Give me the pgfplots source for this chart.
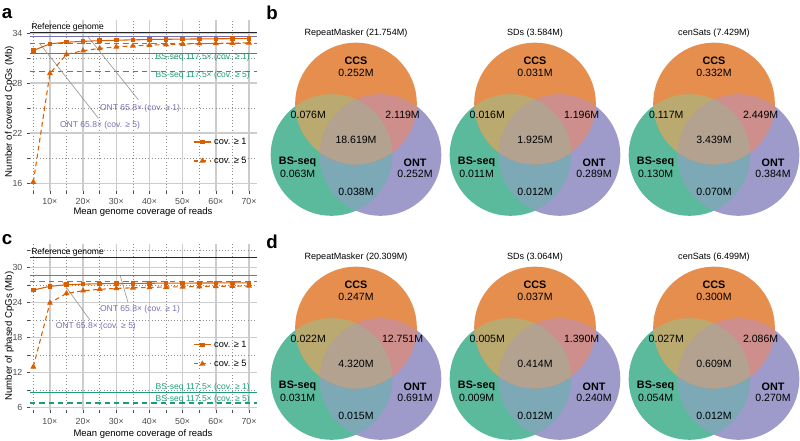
\documentclass[border=0pt]{standalone}
\usepackage{fontspec}
\setmainfont{Liberation Sans}
\usepackage{pgfplots}
\pgfplotsset{compat=1.18}

\definecolor{cOrange}{HTML}{D95F02}
\definecolor{cGreen}{HTML}{1B9E77}
\definecolor{cPurple}{HTML}{7570B3}
\definecolor{vCCS}{RGB}{229,142,78}
\definecolor{vBS}{RGB}{92,186,156}
\definecolor{vONT}{RGB}{158,155,203}
\definecolor{vCB}{RGB}{187,170,112}
\definecolor{vCO}{RGB}{205,142,140}
\definecolor{vBO}{RGB}{125,168,182}
\definecolor{vAll}{RGB}{180,162,145}

\newcommand{\fs}[1]{\fontsize{#1}{#1}\selectfont}

\tikzset{anno/.style={font=\fs{6.4}, inner sep=0pt},
  vfill/.style={draw=none, fill=#1},
  vclip/.style={clip, draw=none, fill=none}}

% Venn circles as plot marks (radius 45.6pt); overlaps clipped inside the mark
\pgfdeclareplotmark{vBSmark}{\path[vfill=vBS] (0pt,0pt) circle[radius=45.6pt];}
\pgfdeclareplotmark{vONTmark}{%
  \path[vfill=vONT] (0pt,0pt) circle[radius=45.6pt];
  \begin{scope}
    \path[vclip] (0pt,0pt) circle[radius=45.6pt];
    \path[vfill=vBO] (-36.75pt,0pt) circle[radius=45.6pt];
  \end{scope}}
\pgfdeclareplotmark{vCCSmark}{%
  \path[vfill=vCCS] (0pt,0pt) circle[radius=45.6pt];
  \begin{scope}
    \path[vclip] (0pt,0pt) circle[radius=45.6pt];
    \path[vfill=vCB] (-18.375pt,-38.625pt) circle[radius=45.6pt];
    \path[vfill=vCO] (18.375pt,-38.625pt) circle[radius=45.6pt];
    \path[vclip] (-18.375pt,-38.625pt) circle[radius=45.6pt];
    \path[vfill=vAll] (18.375pt,-38.625pt) circle[radius=45.6pt];
  \end{scope}}

\pgfplotsset{
  covaxis/.style={
    scale only axis, width=170.25pt,
    xmin=4, xmax=72.4,
    xtick={10,20,30,40,50,60,70},
    xticklabels={10×,20×,30×,40×,50×,60×,70×},
    minor xtick={5,15,25,35,45,55,65},
    grid=both,
    major grid style={black!20, line width=1.1pt},
    minor grid style={black!45, dotted, line width=0.5pt},
    axis line style={draw=none},
    tick align=outside, xtick pos=bottom, ytick pos=left,
    major tick length=2.2pt, minor tick length=2.2pt,
    tick style={black!70, line width=0.5pt},
    ticklabel style={font=\fs{6.6}, text=black!70},
    /pgf/number format/assume math mode=true,
    clip=false,
    legend style={draw=none, fill=none, font=\fs{6.9}, row sep=4pt, anchor=west},
    legend cell align=left,
    legend image code/.code={\draw[mark repeat=2,mark phase=2] plot coordinates {(0pt,0pt) (6.5pt,0pt) (13pt,0pt)};},
  },
  covOne/.style={cOrange, line width=0.8pt, mark=square*, mark size=1.3pt},
  covFive/.style={cOrange, line width=0.8pt, dash pattern=on 3.5pt off 2.5pt, mark=triangle*, mark size=1.8pt, mark options={solid}},
  refline/.style={forget plot, line width=0.8pt},
  conn/.style={forget plot, black!40, line width=0.5pt},
  vennaxis/.style={scale only axis, width=135pt, height=150pt, xmin=-90, xmax=90, ymin=-220, ymax=-20, hide axis, clip=false},
  vennset/.style={only marks, mark options={draw=none}},
}

% #1 position, #2 title, #3 CCS, #4 BS-seq, #5 ONT, #6 CCS&BS, #7 CCS&ONT, #8 BS&ONT, #9 all
\newcommand{\venn}[9]{%
  \begin{axis}[vennaxis, at={#1}]
    \addplot[vennset, mark=vBSmark] coordinates {(-24.5,-155)};
    \addplot[vennset, mark=vONTmark] coordinates {(24.5,-155)};
    \addplot[vennset, mark=vCCSmark] coordinates {(0,-103.5)};
  \end{axis}
  \begin{axis}[vennaxis, at={#1}]
    \node[font=\fs{6.8}] at (axis cs:0,-33) {#2};
    \node[font=\bfseries\fs{8.1}] at (axis cs:0,-61) {CCS};
    \node[font=\fs{7.9}] at (axis cs:0,-73.3) {#3};
    \node[font=\fs{7.9}] at (axis cs:-47.7,-115) {#6};
    \node[font=\fs{7.9}] at (axis cs:46.6,-115) {#7};
    \node[font=\fs{7.9}] at (axis cs:0,-140) {#9};
    \node[font=\bfseries\fs{8.1}] at (axis cs:-58.4,-162.3) {BS-seq};
    \node[font=\fs{7.9}] at (axis cs:-58.4,-174) {#4};
    \node[font=\bfseries\fs{8.1}] at (axis cs:59,-162.3) {ONT};
    \node[font=\fs{7.9}] at (axis cs:59,-174) {#5};
    \node[font=\fs{7.9}] at (axis cs:0,-191.7) {#8};
  \end{axis}}

\begin{document}
\begin{tikzpicture}
\useasboundingbox (0,0) rectangle (600pt,330.75pt);

% panel a
\begin{axis}[covaxis, at={(22.5pt,187.5pt)}, height=128.25pt,
  ymin=15.08, ymax=35.56, ytick={16,22,28,34}, minor ytick={19,25,31},
  legend style={at={(0.70,0.231)}}]
\addplot[refline, black!85] coordinates {(4,34.05) (72.4,34.05)};
\addplot[refline, cPurple] coordinates {(4,33.55) (72.4,33.55)};
\addplot[refline, cPurple, dash pattern=on 4pt off 3pt] coordinates {(4,32.76) (72.4,32.76)};
\addplot[refline, cGreen] coordinates {(4,31.5) (72.4,31.5)};
\addplot[refline, cGreen, dash pattern=on 4pt off 3pt] coordinates {(4,29.36) (72.4,29.36)};
\addplot[conn] coordinates {(36.66,26.0) (21.58,33.5)};
\addplot[conn] coordinates {(24.6,23.8) (6.8,32.8)};
\addplot[covOne] coordinates {
(5,31.9) (10,32.7) (15,32.9) (20,33.0) (25,33.08) (30,33.14) (35,33.18)
(40,33.22) (45,33.25) (50,33.27) (55,33.29) (60,33.31) (65,33.32) (70,33.34)};
\addlegendentry{cov. ≥ 1}
\addplot[covFive] coordinates {
(5,16.15) (10,29.16) (15,31.44) (20,31.88) (25,32.16) (30,32.34) (35,32.46)
(40,32.55) (45,32.62) (50,32.68) (55,32.72) (60,32.76) (65,32.79) (70,32.82)};
\addlegendentry{cov. ≥ 5}
\node[anno, anchor=west] at (axis cs:4.3,34.64) {Reference genome};
\node[anno, anchor=east, text=cGreen] at (axis cs:70.3,31.04) {BS-seq 117.5× (cov. ≥ 1)};
\node[anno, anchor=east, text=cGreen] at (axis cs:70.3,28.88) {BS-seq 117.5× (cov. ≥ 5)};
\node[anno, text=cPurple] at (axis cs:37.17,25.0) {ONT 65.8× (cov. ≥ 1)};
\node[anno, text=cPurple] at (axis cs:25.1,22.9) {ONT 65.8× (cov. ≥ 5)};
\end{axis}

% panel c
\begin{axis}[covaxis, at={(22.5pt,22.875pt)}, height=124.875pt,
  ymin=5.52, ymax=34.06, ytick={6,12,18,24,30}, minor ytick={9,15,21,27,33},
  legend style={at={(0.70,0.337)}}]
\addplot[refline, black!85] coordinates {(4,31.7) (72.4,31.7)};
\addplot[refline, cPurple] coordinates {(4,28.63) (72.4,28.63)};
\addplot[refline, cPurple, dash pattern=on 4pt off 3pt] coordinates {(4,27.7) (72.4,27.7)};
\addplot[refline, cGreen] coordinates {(4,8.63) (72.4,8.63)};
\addplot[refline, cGreen, dash pattern=on 4pt off 3pt] coordinates {(4,6.8) (72.4,6.8)};
\addplot[conn] coordinates {(33.5,24.1) (31.2,28.6)};
\addplot[conn] coordinates {(22.1,21.0) (13.6,27.7)};
\addplot[covOne] coordinates {
(5,26.17) (10,26.8) (15,27.08) (20,27.18) (25,27.24) (30,27.28) (35,27.31)
(40,27.33) (45,27.35) (50,27.36) (55,27.37) (60,27.38) (65,27.39) (70,27.4)};
\addlegendentry{cov. ≥ 1}
\addplot[covFive] coordinates {
(5,13.0) (10,23.95) (15,25.6) (20,26.05) (25,26.3) (30,26.45) (35,26.55)
(40,26.62) (45,26.68) (50,26.72) (55,26.76) (60,26.8) (65,26.83) (70,26.86)};
\addlegendentry{cov. ≥ 5}
\node[anno, anchor=west] at (axis cs:4.3,32.64) {Reference genome};
\node[anno, anchor=east, text=cGreen] at (axis cs:70.3,9.43) {BS-seq 117.5× (cov. ≥ 1)};
\node[anno, anchor=east, text=cGreen] at (axis cs:70.3,7.49) {BS-seq 117.5× (cov. ≥ 5)};
\node[anno, text=cPurple] at (axis cs:37.17,22.87) {ONT 65.8× (cov. ≥ 1)};
\node[anno, text=cPurple] at (axis cs:23.84,19.89) {ONT 65.8× (cov. ≥ 5)};
\end{axis}

% panel b
\venn{(199.5pt,165.75pt)}{RepeatMasker (21.754M)}{0.252M}{0.063M}{0.252M}{0.076M}{2.119M}{0.038M}{18.619M}
\venn{(333.75pt,165.75pt)}{SDs (3.584M)}{0.031M}{0.011M}{0.289M}{0.016M}{1.196M}{0.012M}{1.925M}
\venn{(468pt,165.75pt)}{cenSats (7.429M)}{0.332M}{0.130M}{0.384M}{0.117M}{2.449M}{0.070M}{3.439M}
% panel d
\venn{(199.5pt,-2.25pt)}{RepeatMasker (20.309M)}{0.247M}{0.031M}{0.691M}{0.022M}{12.751M}{0.015M}{4.320M}
\venn{(333.75pt,-2.25pt)}{SDs (3.064M)}{0.037M}{0.009M}{0.240M}{0.005M}{1.390M}{0.012M}{0.414M}
\venn{(468pt,-2.25pt)}{cenSats (6.499M)}{0.300M}{0.054M}{0.270M}{0.027M}{2.086M}{0.012M}{0.609M}

% labels in image pixel coordinates
\begin{scope}[x=0.75pt, y=-0.75pt, shift={(0pt,330.75pt)}]
\node[font=\bfseries\fs{14}, anchor=base west, inner sep=0pt] at (1.5,18.5) {a};
\node[font=\bfseries\fs{14}, anchor=base west, inner sep=0pt] at (266,19.5) {b};
\node[font=\bfseries\fs{14}, anchor=base west, inner sep=0pt] at (1.5,245) {c};
\node[font=\bfseries\fs{14}, anchor=base west, inner sep=0pt] at (266,249) {d};
\node[rotate=90, font=\fs{7.2}] at (9.5,111.5) {Number of covered CpGs (Mb)};
\node[rotate=90, font=\fs{7.2}] at (9.5,336) {Number of phased CpGs (Mb)};
\node[font=\fs{7.1}] at (143,212.5) {Mean genome coverage of reads};
\node[font=\fs{7.1}] at (143,434) {Mean genome coverage of reads};
\end{scope}
\end{tikzpicture}
\end{document}
